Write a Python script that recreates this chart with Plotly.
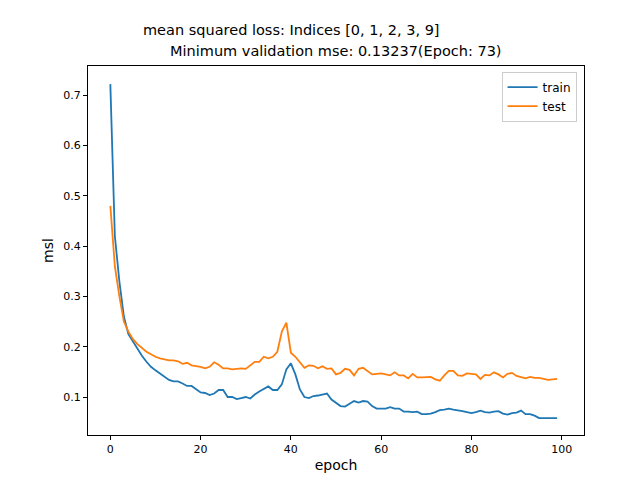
import plotly.graph_objects as go

epochs = list(range(100))
train = [0.722, 0.42, 0.33, 0.26, 0.225, 0.21, 0.195, 0.182, 0.17, 0.16,
         0.153, 0.147, 0.14, 0.134, 0.131, 0.131, 0.127, 0.122, 0.122, 0.115,
         0.109, 0.108, 0.104, 0.107, 0.114, 0.114, 0.1, 0.1, 0.096, 0.098,
         0.1, 0.097, 0.105, 0.111, 0.116, 0.121, 0.114, 0.114, 0.125, 0.155,
         0.167, 0.145, 0.115, 0.1, 0.098, 0.102, 0.103, 0.105, 0.107, 0.095,
         0.088, 0.082, 0.081, 0.086, 0.092, 0.089, 0.092, 0.091, 0.082, 0.077,
         0.077, 0.077, 0.08, 0.077, 0.077, 0.071, 0.071, 0.07, 0.071, 0.066,
         0.066, 0.067, 0.07, 0.074, 0.075, 0.077, 0.075, 0.074, 0.072, 0.07,
         0.068, 0.07, 0.073, 0.07, 0.069, 0.071, 0.072, 0.067, 0.065, 0.068,
         0.069, 0.073, 0.066, 0.066, 0.063, 0.058, 0.058, 0.059, 0.058, 0.058]
test = [0.48, 0.36, 0.3, 0.25, 0.23, 0.215, 0.205, 0.197, 0.19, 0.185,
        0.18, 0.177, 0.175, 0.173, 0.173, 0.171, 0.166, 0.168, 0.163, 0.162,
        0.16, 0.157, 0.16, 0.169, 0.164, 0.157, 0.157, 0.155, 0.156, 0.157,
        0.156, 0.163, 0.17, 0.17, 0.18, 0.177, 0.18, 0.19, 0.23, 0.248,
        0.188, 0.18, 0.168, 0.158, 0.163, 0.162, 0.157, 0.161, 0.156, 0.157,
        0.145, 0.148, 0.156, 0.154, 0.143, 0.156, 0.158, 0.151, 0.145, 0.146,
        0.147, 0.145, 0.143, 0.149, 0.143, 0.143, 0.137, 0.146, 0.139, 0.139,
        0.139, 0.14, 0.135, 0.1324, 0.143, 0.152, 0.152, 0.143, 0.142, 0.147,
        0.146, 0.145, 0.136, 0.144, 0.143, 0.149, 0.145, 0.139, 0.146, 0.148,
        0.142, 0.14, 0.137, 0.14, 0.138, 0.138, 0.136, 0.134, 0.135, 0.136]

fig = go.Figure()
fig.add_trace(go.Scatter(x=epochs, y=train, mode='lines', name='train',
                         line=dict(color='#1f77b4', width=1.8)))
fig.add_trace(go.Scatter(x=epochs, y=test, mode='lines', name='test',
                         line=dict(color='#ff7f0e', width=1.8)))

axis = dict(showgrid=False, zeroline=False, showline=True, linecolor='black',
            mirror=True, ticks='outside', tickcolor='black', ticklen=4,
            tickfont=dict(size=11), automargin=False)
fig.update_layout(
    width=640, height=480,
    margin=dict(l=80, r=64, t=58, b=53),
    plot_bgcolor='white', paper_bgcolor='white',
    font=dict(family='DejaVu Sans', color='black', size=12),
    xaxis=dict(axis, range=[-4.95, 104.95], tickvals=[0, 20, 40, 60, 80, 100],
               title=dict(text='epoch', standoff=4)),
    yaxis=dict(axis, range=[0.0245, 0.758], tickvals=[0.1, 0.2, 0.3, 0.4, 0.5, 0.6, 0.7],
               tickformat='.1f', title=dict(text='msl', standoff=6)),
    legend=dict(x=0.985, y=0.985, xanchor='right', yanchor='top',
                bordercolor='#cccccc', borderwidth=1, font=dict(size=12)),
    showlegend=True,
)
# title lines placed by pixel position (x from left, y from top)
titles = [('mean squared loss: Indices [0, 1, 2, 3, 9]', 283, 22),
          ('Minimum validation mse: 0.13237(Epoch: 73)', 328, 43)]
for text, px_x, px_y in titles:
    fig.add_annotation(text=text, showarrow=False, xref='paper', yref='paper',
                       x=(px_x - 80) / (640 - 80 - 64),
                       y=((480 - px_y) - 53) / (480 - 58 - 53),
                       xanchor='center', yanchor='middle', font=dict(size=14.5))
fig.write_html("out.html")
